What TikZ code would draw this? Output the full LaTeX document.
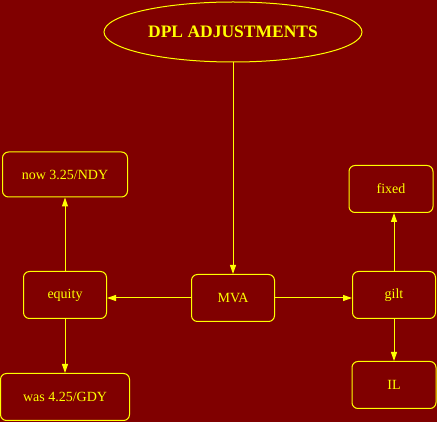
\documentclass[tikz,border=0pt]{standalone}
\usepackage{fontspec}
\setmainfont{Liberation Serif}
\usepackage{tikz}
\usetikzlibrary{shapes.geometric, arrows.meta, positioning, calc}
\definecolor{dplred}{HTML}{800000}
\definecolor{dplyellow}{HTML}{FFFF00}

\begin{document}
\begin{tikzpicture}[
  x=1pt, y=-1pt,
  title/.style={ellipse, draw=dplyellow, line width=1pt,
    minimum width=258pt, minimum height=60pt, inner sep=0pt,
    text=dplyellow, font=\fontsize{17.5}{20}\selectfont\bfseries},
  box/.style={rectangle, rounded corners=6pt,
    draw=dplyellow, line width=1pt,
    minimum width=83pt, minimum height=47pt, inner sep=0pt,
    align=center, text=dplyellow, font=\fontsize{14}{16}\selectfont},
  arr/.style={-{Triangle[length=9pt, width=6pt]}, line width=1pt, color=dplyellow}
]
  \useasboundingbox[fill=dplred] (0,0) rectangle (437,422);

  \node[title] (dpl) at (233,32) {DPL ADJUSTMENTS};
  \node[box] (mva) at (233,298) {MVA};
  \node[box] (equity) at (65,295) {equity};
  \node[box] (gilt) at (394,295) {gilt};
  \node[box, minimum width=125pt, minimum height=45pt] (now) at (65,174.5)
    {now 3.25/NDY};
  \node[box, minimum width=129pt] (was) at (65,397) {was 4.25/GDY};
  \node[box, minimum width=84pt] (fixed) at (391,189) {fixed};
  \node[box, minimum width=84pt] (il) at (394,385) {IL};

  \draw[arr] (dpl) -- (mva);
  \draw[arr] (mva) -- (mva -| equity.east);
  \draw[arr] (mva) -- (mva -| gilt.west);
  \draw[arr] (equity) -- (now);
  \draw[arr] (equity) -- (was);
  \draw[arr] (gilt) -- (gilt |- fixed.south);
  \draw[arr] (gilt) -- (il);
\end{tikzpicture}
\end{document}
